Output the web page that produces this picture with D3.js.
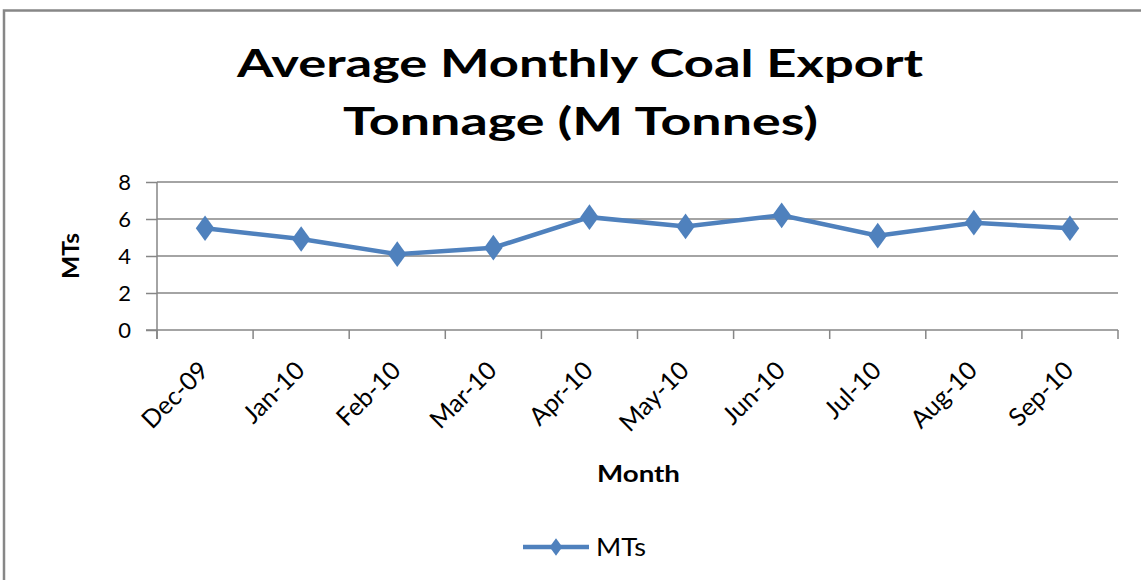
<!DOCTYPE html>
<html>
<head>
<meta charset="utf-8">
<script src="https://cdn.jsdelivr.net/npm/d3@7"></script>
<style>
  body { margin: 0; background: #fff; }
  svg { display: block; font-family: "Lato", "Open Sans", sans-serif; }
</style>
</head>
<body>
<script>
// Chart data
var months = ["Dec-09", "Jan-10", "Feb-10", "Mar-10", "Apr-10", "May-10", "Jun-10", "Jul-10", "Aug-10", "Sep-10"];
var tonnes = [5.5, 4.92, 4.1, 4.45, 6.1, 5.6, 6.2, 5.1, 5.8, 5.5];
var yTicks = [0, 2, 4, 6, 8];
var seriesName = "MTs";

var svgWidth = 1141;
var svgHeight = 580;

var margin = { top: 182, right: 23, bottom: 250, left: 157 };
var chartWidth = svgWidth - margin.left - margin.right;
var chartHeight = svgHeight - margin.top - margin.bottom;

var svg = d3.select("body")
  .append("svg")
  .attr("width", svgWidth)
  .attr("height", svgHeight);

// outer chart border
svg.append("rect")
  .attr("x", 4)
  .attr("y", 10.5)
  .attr("width", svgWidth + 10)
  .attr("height", svgHeight + 10)
  .attr("fill", "none")
  .attr("stroke", "#878787")
  .attr("stroke-width", 2.5);

// title (the original is stretched wide, so force the line widths)
var title = svg.append("g")
  .attr("font-weight", "bold")
  .attr("font-size", 38)
  .attr("fill", "#000");
title.append("text").attr("x", 237).attr("y", 77)
  .attr("textLength", 686).attr("lengthAdjust", "spacingAndGlyphs")
  .text("Average Monthly Coal Export");
title.append("text").attr("x", 343).attr("y", 135)
  .attr("textLength", 475).attr("lengthAdjust", "spacingAndGlyphs")
  .text("Tonnage (M Tonnes)");

var chartGroup = svg.append("g")
  .attr("transform", `translate(${margin.left}, ${margin.top})`);

var xBand = d3.scaleBand()
  .domain(months)
  .range([0, chartWidth]);

var yLinearScale = d3.scaleLinear()
  .domain([0, 8])
  .range([chartHeight, 0]);

// gridlines
chartGroup.append("g")
  .selectAll("line")
  .data(yTicks.filter(d => d > 0))
  .enter()
  .append("line")
  .attr("x1", 0)
  .attr("x2", chartWidth)
  .attr("y1", d => yLinearScale(d))
  .attr("y2", d => yLinearScale(d))
  .attr("stroke", "#868686")
  .attr("stroke-width", 1.3);

// left axis
var leftAxis = d3.axisLeft(yLinearScale)
  .tickValues(yTicks)
  .tickSize(11)
  .tickPadding(15);

var yAxisG = chartGroup.append("g").call(leftAxis);
yAxisG.select(".domain").attr("stroke", "#868686").attr("stroke-width", 1.5)
  .attr("d", `M0,0V${chartHeight + 9}`);
yAxisG.selectAll(".tick line").attr("stroke", "#868686").attr("stroke-width", 1.5);
yAxisG.selectAll(".tick text")
  .attr("font-size", 22)
  .attr("font-family", "Lato, sans-serif")
  .attr("fill", "#000")
  .attr("dy", "0.36em");

// bottom axis with ticks between categories
var bottomBoundaries = d3.range(months.length + 1).map(i => i * xBand.step());
chartGroup.append("line")
  .attr("x1", -11).attr("x2", chartWidth)
  .attr("y1", chartHeight).attr("y2", chartHeight)
  .attr("stroke", "#868686").attr("stroke-width", 1.5);
chartGroup.append("g")
  .selectAll("line")
  .data(bottomBoundaries)
  .enter()
  .append("line")
  .attr("x1", d => d).attr("x2", d => d)
  .attr("y1", chartHeight).attr("y2", chartHeight + 9)
  .attr("stroke", "#868686").attr("stroke-width", 1.5);

chartGroup.append("g")
  .selectAll("text")
  .data(months)
  .enter()
  .append("text")
  .attr("transform", d => `translate(${xBand(d) + xBand.bandwidth() / 2 + 5}, ${chartHeight + 42}) rotate(-45)`)
  .attr("text-anchor", "end")
  .attr("font-size", 25)
  .attr("fill", "#000")
  .text(d => d);

// axis titles
chartGroup.append("text")
  .attr("transform", `translate(-78, ${chartHeight / 2 - 23}) rotate(-90)`)
  .attr("x", -46)
  .attr("font-weight", "bold")
  .attr("font-size", 23)
  .attr("textLength", 46).attr("lengthAdjust", "spacingAndGlyphs")
  .text(seriesName);

chartGroup.append("text")
  .attr("x", 440)
  .attr("y", 300)
  .attr("font-weight", "bold")
  .attr("font-size", 23)
  .attr("textLength", 83).attr("lengthAdjust", "spacingAndGlyphs")
  .text("Month");

// line + markers
var drawLine = d3.line()
  .x((d, i) => xBand(months[i]) + xBand.bandwidth() / 2)
  .y(d => yLinearScale(d));

chartGroup.append("path")
  .attr("d", drawLine(tonnes))
  .attr("fill", "none")
  .attr("stroke", "#4F81BD")
  .attr("stroke-width", 4.5);

var diamond = d3.symbol().type(d3.symbolDiamond).size(190);
chartGroup.selectAll(".marker")
  .data(tonnes)
  .enter()
  .append("path")
  .attr("class", "marker")
  .attr("transform", (d, i) => `translate(${xBand(months[i]) + xBand.bandwidth() / 2}, ${yLinearScale(d)}) scale(1.25,1)`)
  .attr("d", diamond)
  .attr("fill", "#4F81BD");

// legend
var legend = svg.append("g").attr("transform", "translate(523, 547)");
legend.append("line")
  .attr("x1", 0).attr("x2", 66)
  .attr("stroke", "#4F81BD").attr("stroke-width", 4.5);
legend.append("path")
  .attr("transform", "translate(33,0) scale(1.25,1)")
  .attr("d", d3.symbol().type(d3.symbolDiamond).size(90))
  .attr("fill", "#4F81BD");
legend.append("text")
  .attr("x", 73)
  .attr("y", 9)
  .attr("font-size", 25)
  .attr("textLength", 50).attr("lengthAdjust", "spacingAndGlyphs")
  .text(seriesName);
</script>
</body>
</html>
